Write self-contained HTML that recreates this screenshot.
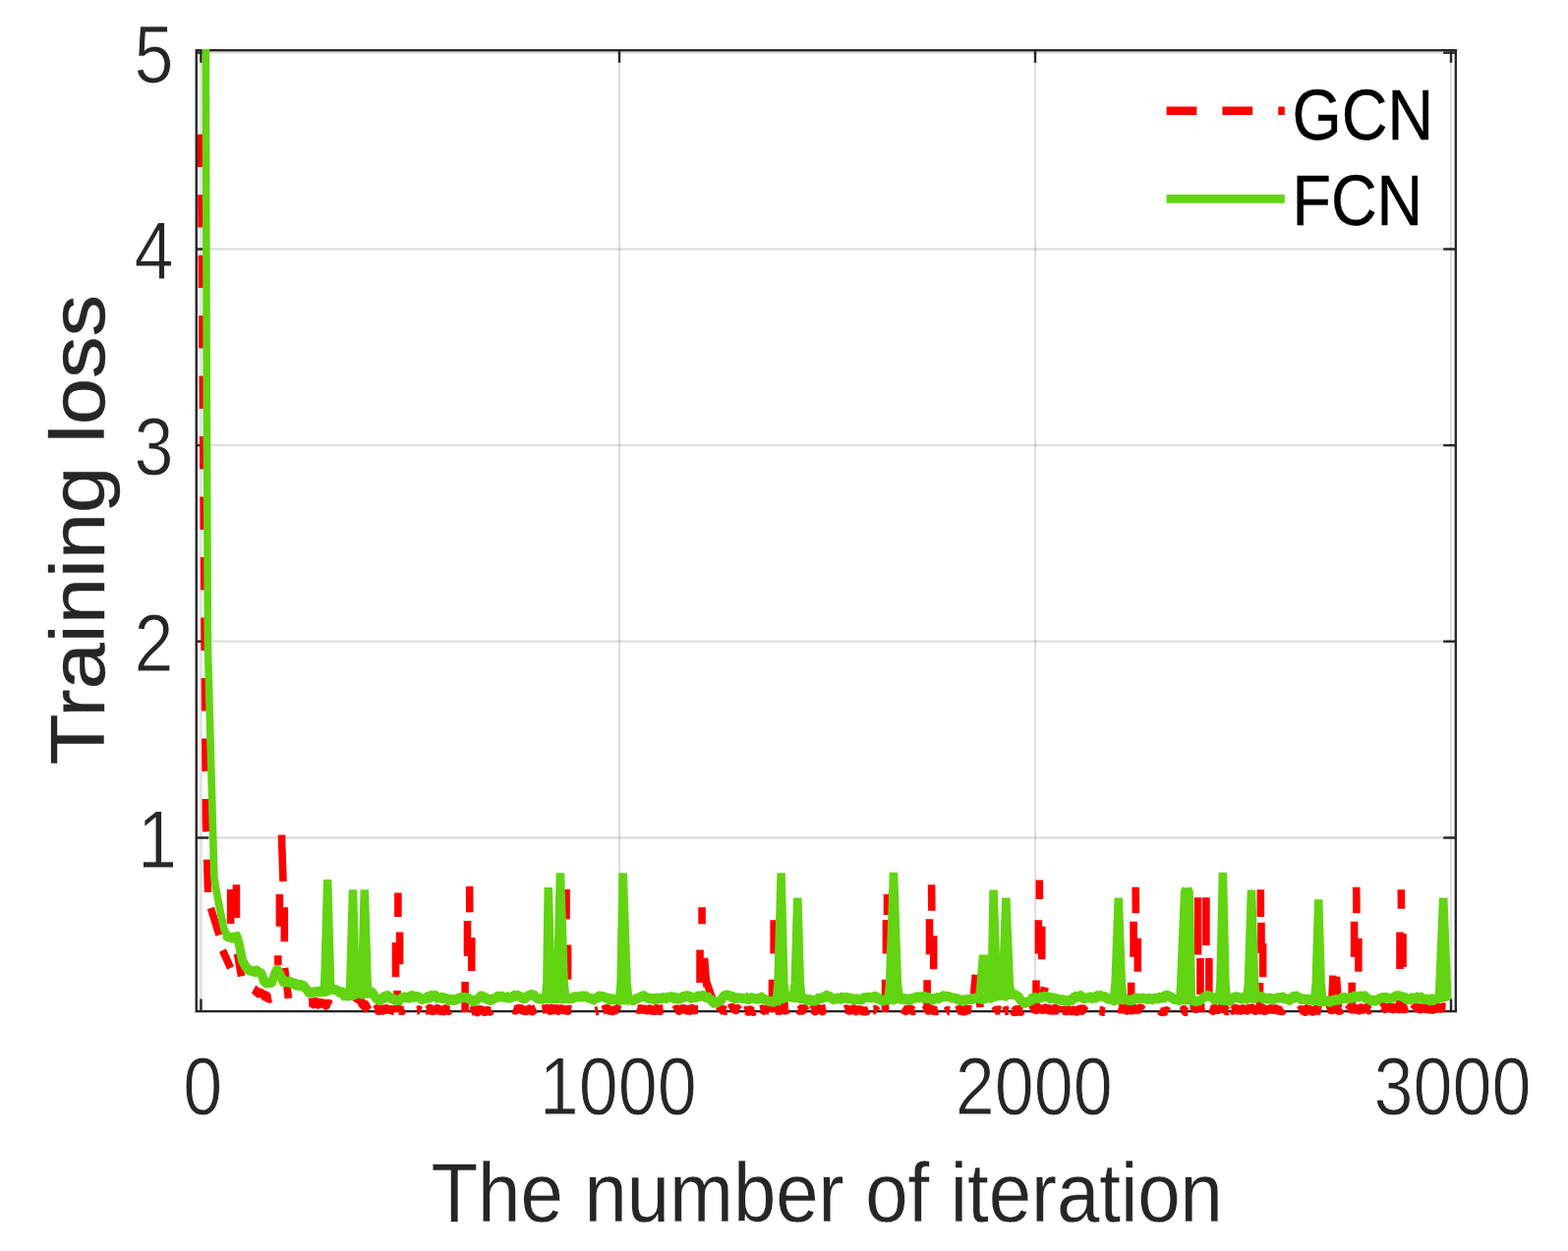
<!DOCTYPE html>
<html lang="en"><head><meta charset="utf-8"><title>Training loss</title>
<style>html,body{margin:0;padding:0;background:#fff}body{width:1595px;height:1273px;overflow:hidden}svg{display:block}text{font-family:"Liberation Sans",sans-serif}</style>
</head><body>
<svg width="1595" height="1273" viewBox="0 0 1595 1273">
<rect width="1595" height="1273" fill="#fff"/>
<defs><clipPath id="c"><rect x="201.00" y="50.00" width="1278.60" height="985.00"/></clipPath></defs>
<g stroke="#262626" stroke-opacity="0.15" stroke-width="2.30" fill="none">
<line x1="204.45" y1="51.20" x2="204.45" y2="1029.10"/>
<line x1="630.00" y1="51.20" x2="630.00" y2="1029.10"/>
<line x1="1053.00" y1="51.20" x2="1053.00" y2="1029.10"/>
<line x1="1476.00" y1="51.20" x2="1476.00" y2="1029.10"/>
<line x1="199.75" y1="53.65" x2="1480.80" y2="53.65"/>
<line x1="199.75" y1="253.50" x2="1480.80" y2="253.50"/>
<line x1="199.75" y1="453.10" x2="1480.80" y2="453.10"/>
<line x1="199.75" y1="652.70" x2="1480.80" y2="652.70"/>
<line x1="199.75" y1="852.50" x2="1480.80" y2="852.50"/>
</g>
<g stroke="#262626" stroke-width="2.40" fill="none">
<rect x="199.75" y="51.20" width="1281.05" height="977.90"/>
<line x1="204.45" y1="1029.10" x2="204.45" y2="1016.50"/>
<line x1="204.45" y1="51.20" x2="204.45" y2="63.80"/>
<line x1="630.00" y1="1029.10" x2="630.00" y2="1016.50"/>
<line x1="630.00" y1="51.20" x2="630.00" y2="63.80"/>
<line x1="1053.00" y1="1029.10" x2="1053.00" y2="1016.50"/>
<line x1="1053.00" y1="51.20" x2="1053.00" y2="63.80"/>
<line x1="1476.00" y1="1029.10" x2="1476.00" y2="1016.50"/>
<line x1="1476.00" y1="51.20" x2="1476.00" y2="63.80"/>
<line x1="199.75" y1="53.65" x2="212.35" y2="53.65"/>
<line x1="1480.80" y1="53.65" x2="1468.20" y2="53.65"/>
<line x1="199.75" y1="253.50" x2="212.35" y2="253.50"/>
<line x1="1480.80" y1="253.50" x2="1468.20" y2="253.50"/>
<line x1="199.75" y1="453.10" x2="212.35" y2="453.10"/>
<line x1="1480.80" y1="453.10" x2="1468.20" y2="453.10"/>
<line x1="199.75" y1="652.70" x2="212.35" y2="652.70"/>
<line x1="1480.80" y1="652.70" x2="1468.20" y2="652.70"/>
<line x1="199.75" y1="852.50" x2="212.35" y2="852.50"/>
<line x1="1480.80" y1="852.50" x2="1468.20" y2="852.50"/>
</g>
<g clip-path="url(#c)"><g transform="scale(0.9240 1)" fill="none" stroke-linecap="butt">
<path stroke="#ff0000" stroke-width="8.20" stroke-dasharray="33.3 28.2" stroke-linejoin="bevel" d="M221.3 136.6L226.7 837.0L228.4 890.0L229.0 909.0"/>
<path stroke="#ff0000" stroke-width="9.20" stroke-linejoin="round" d="M279.2 1006.7L281.0 1007.8L282.8 1009.3L284.5 1010.8L286.3 1010.2L288.1 1010.9L289.8 1011.9L291.6 1014.1L293.4 1013.3L295.2 1015.6L296.9 1016.1L298.7 1015.6M339.8 1020.1L341.6 1020.0L343.3 1020.1L345.0 1021.8L346.8 1019.7L348.5 1019.6L350.3 1022.2L352.0 1021.0L353.7 1020.6L355.5 1021.2L357.2 1021.4L359.0 1023.1L360.7 1021.4L362.4 1021.6L364.2 1022.7M389.6 1012.1L391.4 1014.8L393.2 1016.2L395.0 1016.6L396.8 1017.9L398.6 1021.2L400.4 1023.3L402.2 1022.4L404.0 1025.9L405.8 1028.0M412.9 1027.9L414.7 1026.8L416.5 1028.4L418.3 1028.2L420.1 1026.9L421.9 1028.1L423.7 1027.0L425.5 1026.6L427.3 1027.4L429.1 1027.4L430.9 1027.6L432.7 1028.3L434.5 1028.9M438.9 1028.2L441.0 1028.2L443.2 1028.3L445.3 1027.8M458.9 1028.0L461.0 1027.7L463.2 1028.8M469.2 1027.6L470.9 1028.0L472.7 1026.4L474.5 1026.7L476.2 1028.6L478.0 1027.8L479.8 1028.0L481.5 1026.4L483.3 1027.2L485.1 1028.6L486.8 1027.9L488.6 1028.8L490.4 1026.7L492.1 1027.4L493.9 1028.3L495.7 1027.4M518.4 1029.3L520.1 1028.7L521.9 1027.5L523.6 1027.5L525.4 1029.8L527.1 1027.5L528.9 1027.7L530.6 1028.1L532.4 1029.1L534.1 1029.4L535.9 1028.4L537.6 1028.5L539.4 1029.2L541.1 1027.9M564.9 1027.2L566.7 1027.8L568.5 1027.9L570.3 1026.3L572.0 1026.5L573.8 1026.6L575.6 1028.1L577.4 1028.0L579.2 1028.7L580.9 1028.2L582.7 1026.9L584.5 1028.2L586.3 1028.8L588.0 1027.1L589.8 1026.2M596.9 1027.2L598.6 1026.9L600.4 1026.7L602.2 1026.3L604.0 1026.5L605.7 1028.4L607.5 1026.3L609.3 1027.8L611.1 1026.7L612.8 1026.7L614.6 1028.3L616.4 1027.0L618.1 1026.7L619.9 1027.4L621.7 1028.0L623.5 1027.6L625.2 1028.4L627.0 1027.2L628.8 1027.6M655.3 1029.1L658.5 1028.4M663.4 1028.1L665.2 1027.4L667.0 1026.5L668.8 1026.5L670.6 1028.2L672.3 1028.1L674.1 1028.7L675.9 1028.0L677.7 1027.7L679.5 1026.6L681.3 1028.4M701.3 1026.5L703.1 1027.3L704.9 1026.6L706.7 1027.2L708.5 1027.0L710.3 1027.3L712.1 1028.0L713.8 1027.6L715.6 1026.8L717.4 1028.2L719.2 1028.1L721.0 1028.4L722.8 1026.3L724.6 1027.8L726.4 1028.5L728.2 1026.9L730.0 1026.7M742.4 1028.3L744.2 1027.1L745.9 1027.2L747.6 1028.3L749.4 1027.2L751.1 1026.7L752.8 1026.8L754.5 1027.1L756.3 1028.0L758.0 1027.2L759.7 1028.2L761.5 1026.4L763.2 1026.8L764.9 1027.8L766.7 1027.4L768.4 1027.5M791.1 1029.6L792.9 1027.9L794.6 1027.7L796.3 1027.3L798.1 1028.5L799.8 1028.0M803.0 1026.9L804.8 1025.7L806.6 1025.7L808.4 1026.7L810.2 1027.7L812.0 1026.5L813.9 1028.1M819.8 1028.7L821.7 1028.2L823.6 1029.2L825.5 1027.8L827.4 1028.8L829.3 1029.4L831.2 1028.6M837.1 1027.5L839.1 1026.9L841.0 1028.2L843.0 1027.2L844.9 1027.7L846.9 1028.1M852.8 1028.6L854.7 1028.0L856.6 1027.6L858.5 1028.4L860.4 1027.0L862.3 1027.2L864.2 1028.0L866.1 1027.6L868.0 1026.8M878.2 1027.3L880.1 1028.3L881.9 1026.8L883.8 1028.0L885.6 1026.3L887.4 1028.7M893.4 1028.0L895.1 1027.0L896.9 1028.8L898.6 1028.3L900.4 1026.4L902.1 1026.8L903.9 1027.5L905.6 1028.8L907.3 1026.6L909.1 1026.3M930.2 1027.5L931.9 1026.8L933.7 1027.8L935.4 1028.1L937.1 1027.8L938.9 1027.1L940.6 1026.8L942.3 1028.8L944.0 1027.8L945.8 1027.9L947.5 1027.9L949.2 1028.5L951.0 1029.0L952.7 1028.9L954.4 1028.6L956.2 1027.6M961.6 1027.6L963.7 1027.4L965.9 1029.4M993.5 1026.3L995.4 1027.7L997.4 1028.6L999.3 1027.0L1001.2 1027.2L1003.2 1027.3L1005.1 1028.7L1007.0 1028.0M1018.4 1028.4L1020.2 1026.3L1021.9 1028.1L1023.7 1027.4L1025.4 1027.2L1027.2 1028.3L1029.0 1028.1L1030.7 1028.6L1032.5 1028.1M1041.1 1029.6L1043.3 1028.3L1045.5 1028.6M1053.0 1028.7L1054.8 1027.9L1056.6 1027.1L1058.4 1028.2L1060.2 1029.0L1062.0 1029.0L1063.9 1027.0L1065.7 1027.7L1067.5 1027.3L1069.3 1027.6M1094.2 1029.7L1096.0 1028.3L1097.9 1028.0L1099.8 1027.9L1101.7 1028.3M1105.0 1029.4L1106.8 1028.6L1108.6 1028.2L1110.4 1028.3M1114.7 1027.9L1116.5 1029.6L1118.3 1027.6L1120.1 1029.2L1121.9 1027.5L1123.7 1029.2L1125.5 1027.9M1133.7 1027.2L1135.4 1026.4L1137.1 1025.5L1138.9 1025.6L1140.6 1027.5L1142.3 1026.9L1144.1 1026.8L1145.8 1026.5L1147.6 1027.4L1149.3 1026.9L1151.0 1025.9L1152.8 1027.3L1154.5 1026.6L1156.2 1028.1L1158.0 1027.4L1159.7 1028.0L1161.5 1026.4L1163.2 1027.9L1164.9 1027.7L1166.7 1028.4M1168.3 1029.0L1170.1 1028.1L1171.8 1028.2L1173.6 1028.7L1175.4 1027.4L1177.1 1028.1L1178.9 1028.7L1180.7 1028.2L1182.4 1028.1L1184.2 1028.9L1186.0 1029.2L1187.7 1027.4L1189.5 1026.9L1191.3 1028.3L1193.0 1027.1L1194.8 1029.2M1210.5 1028.4L1212.5 1028.6L1214.5 1029.3L1216.5 1029.5M1231.1 1026.1L1232.9 1026.9L1234.7 1026.2L1236.5 1026.9L1238.3 1026.0L1240.1 1028.0L1241.9 1026.6L1243.7 1026.7L1245.5 1028.0L1247.3 1027.8L1249.1 1026.6L1250.9 1027.0L1252.7 1027.4L1254.5 1026.2L1256.3 1026.1L1258.1 1027.9M1276.5 1028.1L1278.5 1029.5L1280.4 1029.6L1282.4 1029.2L1284.3 1028.6L1286.3 1029.9M1301.4 1029.2L1303.2 1027.4L1305.0 1029.5L1306.8 1028.9M1310.1 1024.5L1311.9 1024.2L1313.7 1024.2L1315.5 1026.1L1317.3 1026.3L1319.1 1025.2L1320.9 1024.8L1322.7 1024.7L1324.5 1025.7L1326.3 1025.5M1331.7 1026.3L1333.6 1027.0L1335.4 1028.3L1337.3 1026.4L1339.2 1027.3L1341.1 1027.5L1342.9 1026.6L1344.8 1026.3L1346.7 1026.4L1348.5 1026.6L1350.4 1028.7L1352.3 1028.4M1355.5 1027.5L1357.3 1028.1L1359.0 1026.6L1360.8 1026.4L1362.5 1028.0L1364.3 1027.4L1366.0 1028.2L1367.8 1026.7L1369.6 1026.9L1371.3 1027.7L1373.1 1028.1L1374.8 1026.3L1376.6 1026.6L1378.3 1025.9L1380.1 1027.4L1381.8 1028.3L1383.6 1027.4L1385.3 1026.3L1387.1 1027.8L1388.9 1027.7L1390.6 1026.3L1392.4 1028.4L1394.1 1027.7L1395.9 1027.3L1397.6 1027.0L1399.4 1026.5L1401.1 1027.3L1402.9 1027.1L1404.6 1026.7L1406.4 1027.8L1408.2 1027.9L1409.9 1028.7L1411.7 1028.7L1413.4 1027.4M1429.7 1028.6L1431.4 1027.7L1433.2 1027.8L1435.0 1028.2L1436.8 1029.3L1438.5 1026.8L1440.3 1027.9L1442.1 1027.6L1443.9 1028.8L1445.7 1029.2L1447.4 1027.9L1449.2 1026.9L1451.0 1028.2L1452.8 1028.2L1454.5 1028.5M1461.0 1027.7L1462.8 1026.9L1464.6 1027.1L1466.5 1027.7L1468.3 1025.8L1470.1 1026.3L1471.9 1027.5L1473.7 1028.2L1475.5 1028.2L1477.3 1026.4M1483.8 1028.2L1485.5 1026.4L1487.3 1026.8L1489.1 1026.0L1490.9 1027.1L1492.7 1026.5L1494.4 1027.3L1496.2 1027.9L1498.0 1025.7L1499.8 1027.1L1501.5 1026.9L1503.3 1026.0L1505.1 1025.4L1506.9 1027.7L1508.7 1027.0M1521.1 1025.8L1522.9 1024.5L1524.7 1026.5L1526.5 1025.2L1528.3 1025.4L1530.1 1025.6L1531.9 1025.4L1533.7 1026.7L1535.4 1025.4L1537.2 1026.0L1539.0 1026.2L1540.8 1026.6L1542.6 1024.6L1544.4 1025.1L1546.2 1026.7L1548.0 1025.8L1549.8 1025.2M1555.7 1027.5L1557.5 1025.5L1559.3 1025.8L1561.1 1025.3L1562.9 1026.8L1564.7 1026.3L1566.5 1025.8L1568.2 1026.2L1570.0 1025.7L1571.8 1026.8L1573.6 1026.9L1575.4 1025.9L1577.2 1027.2L1579.0 1025.0L1580.7 1026.3L1582.5 1025.2L1584.3 1025.1L1586.1 1026.2L1587.9 1025.0L1589.7 1024.9L1591.5 1025.0"/>
<path stroke="#ff0000" stroke-width="8.20" d="M232.1 924.0L241.3 951.5M253.9 905.0L253.9 940.0M260.2 900.3L260.2 934.0M245.1 967.0L253.8 985.0M261.4 970.5L265.7 993.5M310.0 849.6L311.7 897.0M307.8 910.1L307.8 942.8M313.1 923.2L313.1 958.3M306.1 972.2L306.1 982.0M313.3 985.0L317.6 1016.0M438.2 908.4L438.2 933.0M440.0 948.5L440.0 981.2M435.6 959.1L435.6 994.2M437.2 1008.0L437.2 1030.0M516.9 901.9L517.1 928.4M514.6 936.9L514.6 972.9M519.2 953.9L519.2 987.9M512.0 998.9L512.0 1030.0M623.4 905.0L623.4 935.4M625.1 961.6L625.1 996.7M772.8 923.2L772.8 940.3M770.6 966.5L770.6 1000.0M775.4 975.0L778.1 1004.0M778.1 1000.0L786.8 1023.0M851.9 936.2L851.9 970.5M850.1 996.7L850.1 1030.0M863.6 1005.0L863.6 1030.0M976.7 910.0L976.7 931.0M975.6 936.0L975.6 970.5M974.6 996.7L974.6 1030.0M1025.5 900.3L1025.8 926.8M1023.3 935.3L1023.3 971.3M1027.8 952.3L1027.8 986.3M1020.7 997.3L1020.7 1030.0M1073.9 991.8L1072.0 1012.0M1076.8 993.0L1079.0 1025.0M1144.3 895.4L1144.3 915.0M1143.3 936.2L1143.3 970.5M1146.9 942.8L1146.9 976.3M1140.7 997.5L1140.7 1030.0M1145.0 1007.5L1153.7 1009.5M1250.2 902.7L1250.4 929.2M1247.9 937.7L1247.9 973.7M1252.5 954.7L1252.5 988.7M1245.3 999.7L1245.3 1030.0M1318.8 913.3L1318.8 971.4M1327.8 913.3L1327.8 962.0M1321.4 975.0L1321.4 1012.0M1331.0 975.0L1331.0 1012.0M1387.8 905.2L1387.8 933.0M1388.5 938.7L1388.5 970.0M1390.3 960.0L1390.3 994.2M1386.9 1000.0L1386.9 1030.0M1467.5 992.6L1465.9 1025.0M1471.3 994.0L1473.5 1025.0M1493.2 902.7L1493.4 929.2M1490.9 937.7L1490.9 973.7M1495.5 954.7L1495.5 988.7M1488.3 999.7L1488.3 1030.0M1542.5 905.2L1542.7 924.8M1541.1 948.5L1541.1 986.0M1544.4 950.0L1544.4 984.0M1540.9 1012.0L1540.9 1030.0"/>
<path stroke="#62d412" stroke-width="9.80" stroke-linejoin="round" d="M248.4 951.0L250.0 953.0L255.4 954.5L260.8 953.0L263.5 962.0L266.7 977.0L270.6 984.0L271.6 984.8L273.5 987.1L275.3 987.7L277.2 988.3L279.0 988.2L280.8 989.2L282.7 987.5L284.5 989.0L286.4 990.3L288.2 991.0L290.0 997.3L291.9 999.7L293.7 1000.6L295.6 999.8L297.4 1000.2L299.2 999.8L301.1 994.9L302.9 990.2L304.8 986.7L306.6 988.6L308.4 991.9L310.3 995.2L312.1 999.6L314.0 998.3L315.8 999.6L317.6 998.7L319.5 998.7L321.3 1001.3L323.2 1000.1L325.0 1000.6L326.8 1002.9L328.7 1002.9L330.5 1001.8L332.4 1003.5L334.2 1002.9L336.0 1005.4L337.9 1006.9L339.7 1010.0L341.6 1009.5L343.4 1010.2L345.2 1010.2L347.1 1009.0L348.9 1009.3L350.8 1008.9L352.6 1008.9L354.4 1008.7L356.3 1009.0L358.1 1009.1L360.0 1007.0L361.8 1008.0L363.6 1006.6L365.5 1006.1L367.3 1007.3L369.2 1007.0L371.0 1007.6L372.8 1009.1L374.7 1010.2L376.5 1009.2L378.4 1013.3L380.2 1011.9L382.0 1013.6L383.9 1013.7L385.7 1011.5L387.6 1013.2L389.4 1011.9L391.2 1012.1L393.1 1010.5L394.9 1010.2L396.8 1010.2L398.6 1011.8L400.4 1009.7L402.3 1010.8L404.1 1011.0L406.0 1010.9L407.8 1009.4L409.6 1009.6L411.5 1011.9L413.3 1015.5L415.2 1016.1L417.0 1017.9L418.8 1017.6L420.7 1016.9L422.5 1014.1L424.4 1015.5L426.2 1013.1L428.0 1013.8L429.9 1015.0L431.7 1016.7L433.5 1016.3L435.4 1018.5L437.2 1018.1L439.1 1017.5L440.9 1016.5L442.7 1015.0L444.6 1014.3L446.4 1014.4L448.3 1015.4L450.1 1015.9L451.9 1013.5L453.8 1013.0L455.6 1015.1L457.5 1014.0L459.3 1014.1L461.1 1014.4L463.0 1016.1L464.8 1017.1L466.7 1016.2L468.5 1015.8L470.3 1014.4L472.2 1015.9L474.0 1013.1L475.9 1013.7L477.7 1014.2L479.5 1013.1L481.4 1014.7L483.2 1015.5L485.1 1015.2L486.9 1016.1L488.7 1015.1L490.6 1016.4L492.4 1016.2L494.3 1018.1L496.1 1016.9L497.9 1017.1L499.8 1018.1L501.6 1017.2L503.5 1017.0L505.3 1015.3L507.1 1015.0L509.0 1015.4L510.8 1014.9L512.7 1014.8L514.5 1015.7L516.3 1015.8L518.2 1017.1L520.0 1019.1L521.9 1019.2L523.7 1018.2L525.5 1016.9L527.4 1015.2L529.2 1013.5L531.1 1013.5L532.9 1015.1L534.7 1016.2L536.6 1016.0L538.4 1017.8L540.3 1018.0L542.1 1017.3L543.9 1016.3L545.8 1015.5L547.6 1013.8L549.5 1014.5L551.3 1013.6L553.1 1014.2L555.0 1015.1L556.8 1015.1L558.7 1014.3L560.5 1015.9L562.3 1015.1L564.2 1014.6L566.0 1012.7L567.9 1013.6L569.7 1012.7L571.5 1014.0L573.4 1014.3L575.2 1016.1L577.1 1016.1L578.9 1015.9L580.7 1013.5L582.6 1012.8L584.4 1012.2L586.3 1012.6L588.1 1012.6L589.9 1015.2L591.8 1016.4L593.6 1016.2L595.5 1016.8L597.3 1016.8L599.1 1015.7L601.0 1015.8L602.8 1014.9L604.7 1016.5L606.5 1016.7L608.3 1015.6L610.2 1016.2L612.0 1016.2L613.9 1016.3L615.7 1014.9L617.5 1016.4L619.4 1015.9L621.2 1016.1L623.1 1015.5L624.9 1016.0L626.7 1016.4L628.6 1016.0L630.4 1016.0L632.3 1014.1L634.1 1014.1L635.9 1014.5L637.8 1014.7L639.6 1013.5L641.5 1014.5L643.3 1014.4L645.1 1013.5L647.0 1015.3L648.8 1015.6L650.6 1015.9L652.5 1016.4L654.3 1016.7L656.2 1015.7L658.0 1014.6L659.8 1013.4L661.7 1014.0L663.5 1013.9L665.4 1014.9L667.2 1015.6L669.0 1015.5L670.9 1017.8L672.7 1016.0L674.6 1017.1L676.4 1016.8L678.2 1017.1L680.1 1016.4L681.9 1018.1L683.8 1017.0L685.6 1016.2L687.4 1017.6L689.3 1016.4L691.1 1017.5L693.0 1017.0L694.8 1017.5L696.6 1018.4L698.5 1017.7L700.3 1016.1L702.2 1016.2L704.0 1015.1L705.8 1014.0L707.7 1013.2L709.5 1014.4L711.4 1014.5L713.2 1015.9L715.0 1016.4L716.9 1016.0L718.7 1015.8L720.6 1017.4L722.4 1015.3L724.2 1015.5L726.1 1016.4L727.9 1016.3L729.8 1014.9L731.6 1015.7L733.4 1016.1L735.3 1014.7L737.1 1014.7L739.0 1014.2L740.8 1014.5L742.6 1016.3L744.5 1015.1L746.3 1016.7L748.2 1016.7L750.0 1015.7L751.8 1014.0L753.7 1014.8L755.5 1013.2L757.4 1013.3L759.2 1013.6L761.0 1015.9L762.9 1015.2L764.7 1014.8L766.6 1014.9L768.4 1013.5L770.2 1014.1L772.1 1013.2L773.9 1012.8L775.8 1014.3L777.6 1015.2L779.4 1014.4L781.3 1016.8L783.1 1017.5L785.0 1020.1L786.8 1020.5L788.6 1019.6L790.5 1019.4L792.3 1017.8L794.2 1017.8L796.0 1014.1L797.8 1013.3L799.7 1012.3L801.5 1013.0L803.4 1013.5L805.2 1014.7L807.0 1014.0L808.9 1016.2L810.7 1015.2L812.6 1015.8L814.4 1015.4L816.2 1015.4L818.1 1016.1L819.9 1016.1L821.8 1015.9L823.6 1016.9L825.4 1016.6L827.3 1015.2L829.1 1015.6L831.0 1016.0L832.8 1016.9L834.6 1016.7L836.5 1015.8L838.3 1014.6L840.2 1016.9L842.0 1016.7L843.8 1017.8L845.7 1018.8L847.5 1019.1L849.4 1018.9L851.2 1019.8L853.0 1018.2L854.9 1017.8L856.7 1018.2L858.5 1015.9L860.4 1015.4L862.2 1016.0L864.1 1013.6L865.9 1015.0L867.7 1014.4L869.6 1013.7L871.4 1013.4L873.3 1014.8L875.1 1015.4L876.9 1013.9L878.8 1015.1L880.6 1015.7L882.5 1016.1L884.3 1016.1L886.1 1016.1L888.0 1017.6L889.8 1018.4L891.7 1016.9L893.5 1017.5L895.3 1018.9L897.2 1018.7L899.0 1017.8L900.9 1015.5L902.7 1016.3L904.5 1016.0L906.4 1015.4L908.2 1014.2L910.1 1012.6L911.9 1014.8L913.7 1014.0L915.6 1015.7L917.4 1017.2L919.3 1017.0L921.1 1015.6L922.9 1015.7L924.8 1016.8L926.6 1014.7L928.5 1015.6L930.3 1015.2L932.1 1014.9L934.0 1016.4L935.8 1015.5L937.7 1016.0L939.5 1017.0L941.3 1016.3L943.2 1016.2L945.0 1017.3L946.9 1017.4L948.7 1017.3L950.5 1015.1L952.4 1015.4L954.2 1014.7L956.1 1015.1L957.9 1014.6L959.7 1015.5L961.6 1014.2L963.4 1013.8L965.3 1016.1L967.1 1015.5L968.9 1017.3L970.8 1017.3L972.6 1018.3L974.5 1017.4L976.3 1017.5L978.1 1016.6L980.0 1017.2L981.8 1016.4L983.7 1017.5L985.5 1016.8L987.3 1015.8L989.2 1016.0L991.0 1016.2L992.9 1017.1L994.7 1015.7L996.5 1017.2L998.4 1017.4L1000.2 1016.3L1002.1 1017.7L1003.9 1015.9L1005.7 1015.3L1007.6 1015.7L1009.4 1014.2L1011.3 1015.4L1013.1 1014.4L1014.9 1014.2L1016.8 1015.6L1018.6 1014.1L1020.5 1016.1L1022.3 1014.9L1024.1 1015.4L1026.0 1017.5L1027.8 1016.9L1029.7 1015.7L1031.5 1015.0L1033.3 1016.4L1035.2 1015.0L1037.0 1014.9L1038.9 1013.2L1040.7 1014.4L1042.5 1014.0L1044.4 1014.0L1046.2 1014.6L1048.1 1015.7L1049.9 1015.5L1051.7 1016.0L1053.6 1015.8L1055.4 1017.8L1057.3 1017.6L1059.1 1018.1L1060.9 1017.2L1062.8 1018.0L1064.6 1017.0L1066.5 1017.0L1068.3 1016.8L1070.1 1017.1L1072.0 1016.2L1073.8 1015.5L1075.6 1015.2L1077.5 1015.5L1079.3 1015.0L1081.2 1016.9L1083.0 1015.7L1084.8 1016.2L1086.7 1014.1L1088.5 1015.0L1090.4 1015.8L1092.2 1014.9L1094.0 1014.2L1095.9 1014.0L1097.7 1012.9L1099.6 1012.7L1101.4 1012.5L1103.2 1012.8L1105.1 1012.7L1106.9 1013.7L1108.8 1011.8L1110.6 1011.9L1112.4 1011.9L1114.3 1011.6L1116.1 1011.8L1118.0 1012.0L1119.8 1013.7L1121.6 1014.2L1123.5 1018.2L1125.3 1018.5L1127.2 1020.9L1129.0 1020.6L1130.8 1020.2L1132.7 1018.8L1134.5 1018.7L1136.4 1015.6L1138.2 1016.2L1140.0 1015.2L1141.9 1016.0L1143.7 1016.0L1145.6 1014.5L1147.4 1014.4L1149.2 1013.8L1151.1 1014.2L1152.9 1013.9L1154.8 1014.8L1156.6 1016.4L1158.4 1015.2L1160.3 1015.4L1162.1 1016.2L1164.0 1016.2L1165.8 1017.6L1167.6 1018.0L1169.5 1016.9L1171.3 1017.4L1173.2 1018.5L1175.0 1019.2L1176.8 1018.3L1178.7 1017.2L1180.5 1017.8L1182.4 1014.6L1184.2 1014.0L1186.0 1015.1L1187.9 1013.9L1189.7 1013.0L1191.6 1014.7L1193.4 1016.4L1195.2 1015.7L1197.1 1015.3L1198.9 1014.6L1200.8 1014.3L1202.6 1016.0L1204.4 1014.8L1206.3 1015.5L1208.1 1013.2L1210.0 1013.5L1211.8 1013.0L1213.6 1014.0L1215.5 1013.8L1217.3 1015.2L1219.2 1016.4L1221.0 1016.7L1222.8 1016.3L1224.7 1016.2L1226.5 1018.5L1228.4 1016.6L1230.2 1017.4L1232.0 1017.1L1233.9 1017.4L1235.7 1016.4L1237.6 1016.9L1239.4 1016.4L1241.2 1017.5L1243.1 1018.4L1244.9 1017.6L1246.8 1018.1L1248.6 1016.3L1250.4 1015.4L1252.3 1016.3L1254.1 1015.8L1256.0 1015.9L1257.8 1015.4L1259.6 1016.1L1261.5 1016.5L1263.3 1017.0L1265.2 1015.7L1267.0 1016.2L1268.8 1017.2L1270.7 1015.8L1272.5 1015.5L1274.4 1015.7L1276.2 1014.7L1278.0 1015.7L1279.9 1015.2L1281.7 1013.5L1283.5 1012.8L1285.4 1012.7L1287.2 1013.7L1289.1 1014.2L1290.9 1016.0L1292.7 1017.2L1294.6 1016.7L1296.4 1016.3L1298.3 1017.9L1300.1 1016.3L1301.9 1016.8L1303.8 1017.1L1305.6 1017.4L1307.5 1016.8L1309.3 1017.7L1311.1 1017.5L1313.0 1018.6L1314.8 1018.2L1316.7 1019.1L1318.5 1018.5L1320.3 1018.7L1322.2 1017.5L1324.0 1015.6L1325.9 1014.9L1327.7 1013.2L1329.5 1013.5L1331.4 1013.4L1333.2 1014.5L1335.1 1014.9L1336.9 1017.5L1338.7 1017.0L1340.6 1016.5L1342.4 1016.4L1344.3 1016.8L1346.1 1017.2L1347.9 1018.3L1349.8 1017.5L1351.6 1017.1L1353.5 1018.8L1355.3 1017.9L1357.1 1015.7L1359.0 1014.7L1360.8 1014.1L1362.7 1014.5L1364.5 1016.0L1366.3 1016.7L1368.2 1016.4L1370.0 1015.7L1371.9 1016.1L1373.7 1015.9L1375.5 1015.6L1377.4 1014.6L1379.2 1015.7L1381.1 1016.0L1382.9 1015.6L1384.7 1013.9L1386.6 1014.9L1388.4 1014.1L1390.3 1015.6L1392.1 1015.2L1393.9 1016.7L1395.8 1016.7L1397.6 1015.4L1399.5 1016.0L1401.3 1017.5L1403.1 1016.2L1405.0 1015.7L1406.8 1015.2L1408.7 1015.5L1410.5 1015.6L1412.3 1014.6L1414.2 1016.4L1416.0 1016.6L1417.9 1016.3L1419.7 1018.0L1421.5 1016.2L1423.4 1014.2L1425.2 1015.7L1427.1 1013.4L1428.9 1015.0L1430.7 1015.4L1432.6 1017.0L1434.4 1016.5L1436.3 1016.5L1438.1 1016.8L1439.9 1016.6L1441.8 1017.6L1443.6 1017.2L1445.5 1018.2L1447.3 1017.2L1449.1 1017.6L1451.0 1017.5L1452.8 1019.4L1454.7 1019.3L1456.5 1019.4L1458.3 1019.0L1460.2 1018.6L1462.0 1018.1L1463.9 1019.7L1465.7 1018.9L1467.5 1017.6L1469.4 1017.6L1471.2 1016.9L1473.1 1017.8L1474.9 1017.7L1476.7 1015.4L1478.6 1016.4L1480.4 1015.0L1482.3 1015.7L1484.1 1016.1L1485.9 1015.5L1487.8 1015.8L1489.6 1014.6L1491.5 1013.5L1493.3 1014.5L1495.1 1014.5L1497.0 1013.4L1498.8 1013.8L1500.6 1013.6L1502.5 1013.4L1504.3 1015.1L1506.2 1016.3L1508.0 1017.5L1509.8 1018.6L1511.7 1017.8L1513.5 1018.8L1515.4 1017.8L1517.2 1017.3L1519.0 1016.0L1520.9 1015.5L1522.7 1014.9L1524.6 1015.7L1526.4 1014.9L1528.2 1015.8L1530.1 1016.2L1531.9 1015.9L1533.8 1015.0L1535.6 1013.8L1537.4 1013.1L1539.3 1013.1L1541.1 1013.4L1543.0 1014.2L1544.8 1014.8L1546.6 1014.9L1548.5 1017.3L1550.3 1016.3L1552.2 1017.3L1554.0 1015.4L1555.8 1016.4L1557.7 1015.6L1559.5 1015.8L1561.4 1015.4L1563.2 1015.1L1565.0 1016.0L1566.9 1016.5L1568.7 1016.9L1570.6 1016.5L1572.4 1017.4L1574.2 1018.2L1576.1 1016.4L1577.9 1017.9L1579.8 1016.6L1581.6 1016.2L1583.4 1015.0L1585.3 1015.4L1587.1 1014.2L1589.0 1014.5L1590.8 1014.4L1592.6 1013.8L1594.5 1012.7L1596.3 1012.0"/>
<path stroke="#62d412" stroke-width="8.20" stroke-linejoin="miter" stroke-miterlimit="1.6" d="M226.5 30.0L227.7 440.0L228.8 658.0L232.3 776.0L233.9 830.0L235.8 893.0L239.2 912.0L242.7 928.0L246.3 944.0L250.0 953.0L255.4 954.5L260.8 953.0L263.5 962.0L266.7 977.0L270.6 984.0L271.6 984.1L272.7 985.8L273.8 987.1L274.9 986.8L276.0 986.6L277.1 987.2L278.1 987.6L279.2 988.1L280.3 987.6L281.4 987.9L282.5 988.9L283.5 989.1L284.6 989.6L285.7 989.6L286.8 989.3L287.9 989.9L289.0 993.6L290.0 996.2L291.1 999.2L292.2 1000.4L293.3 1000.8L294.4 1000.7L295.5 1000.3L296.5 1000.2L297.6 1000.1L298.7 1000.2L299.8 999.3L300.9 996.7L301.9 993.0L303.0 990.8L304.1 987.7L305.2 986.9L306.3 986.7L307.4 988.8L308.4 991.0L309.5 994.2L310.6 997.9L311.7 998.5L312.8 999.4L313.9 998.7L314.9 999.1L316.0 999.5L317.1 999.4L318.2 999.8L319.3 999.9L320.3 999.8L321.4 1000.6L322.5 1000.4L323.6 1001.6L324.7 1001.0L325.8 1001.7L326.8 1001.7L327.9 1002.3L329.0 1001.9L330.1 1002.6L331.2 1002.3L332.3 1002.8L333.3 1002.7L334.4 1003.1L335.5 1004.0L336.6 1006.0L337.7 1007.5L338.7 1009.0L339.8 1008.9L340.9 1009.2L342.0 1009.2L343.1 1009.2L344.2 1009.2L345.2 1009.3L346.3 1009.2L347.4 1009.1L348.5 1009.4L349.6 1009.9L350.6 1010.3L351.7 1010.1L352.8 1010.2L353.9 1010.1L355.0 1009.9L355.0 1009.7L356.9 1001.0L360.1 895.2L360.6 1008.0L361.0 895.2L364.2 1001.0L366.1 1006.5L367.2 1006.6L368.2 1007.0L369.3 1007.7L370.4 1007.6L371.5 1008.1L372.6 1009.7L373.6 1009.5L374.7 1010.1L375.8 1010.2L376.9 1010.2L378.0 1012.6L379.1 1013.4L380.1 1013.1L381.2 1013.2L382.3 1013.0L383.3 1012.9L385.1 1001.0L388.0 905.4L388.5 1012.4L389.0 905.4L391.7 1001.0L393.5 1011.6L394.6 1011.1L395.7 1011.1L396.3 1011.1L398.1 1001.0L400.8 905.4L401.3 1010.3L401.8 905.4L404.9 1001.0L406.7 1009.8L407.8 1009.9L408.9 1010.2L410.0 1010.4L411.0 1011.3L412.1 1013.3L413.2 1014.4L414.3 1016.5L415.4 1017.5L416.5 1017.2L417.5 1016.6L418.6 1016.6L419.7 1016.6L420.8 1016.2L421.9 1016.0L422.9 1014.6L424.0 1014.6L425.1 1014.5L426.2 1014.0L427.3 1013.2L428.4 1014.5L429.4 1015.4L430.5 1015.4L431.6 1015.3L432.7 1016.1L433.8 1016.9L434.8 1018.2L435.9 1017.9L437.0 1018.0L438.1 1018.6L439.2 1017.9L440.3 1018.1L441.3 1016.4L442.4 1015.8L443.5 1015.7L444.6 1015.8L445.7 1015.5L446.8 1015.3L447.8 1014.4L448.9 1014.6L450.0 1014.5L451.1 1014.3L452.2 1014.5L453.2 1014.0L454.3 1014.3L455.4 1013.9L456.5 1013.7L457.6 1013.9L458.7 1014.3L459.7 1014.8L460.8 1014.8L461.9 1015.3L463.0 1015.4L464.1 1016.7L465.2 1016.8L466.2 1016.3L467.3 1016.1L468.4 1015.6L469.5 1015.8L470.6 1015.5L471.6 1015.8L472.7 1014.8L473.8 1014.0L474.9 1013.1L476.0 1014.2L477.1 1013.6L478.1 1012.8L479.2 1013.6L480.3 1013.5L481.4 1015.4L482.5 1014.7L483.5 1014.7L484.6 1014.7L485.7 1014.3L486.8 1015.4L487.9 1015.2L489.0 1016.3L490.0 1015.7L491.1 1016.4L492.2 1017.4L493.3 1017.7L494.4 1016.9L495.5 1016.8L496.5 1017.6L497.6 1017.5L498.7 1016.7L499.8 1016.6L500.9 1016.4L501.9 1015.9L503.0 1015.8L504.1 1016.2L505.2 1015.7L506.3 1015.9L507.4 1015.0L508.4 1014.9L509.5 1014.5L510.6 1014.8L511.7 1014.6L512.8 1014.7L513.9 1015.9L514.9 1016.6L516.0 1016.8L517.1 1017.4L518.2 1017.5L519.3 1017.5L520.3 1018.0L521.4 1018.0L522.5 1017.7L523.6 1017.3L524.7 1016.9L525.8 1016.7L526.8 1016.0L527.9 1015.0L529.0 1015.1L530.1 1014.2L531.2 1014.3L532.3 1014.6L533.3 1014.3L534.4 1014.4L535.5 1016.0L536.6 1016.1L537.7 1017.3L538.7 1017.3L539.8 1017.7L540.9 1017.5L542.0 1016.2L543.1 1016.6L544.2 1015.5L545.2 1014.9L546.3 1014.4L547.4 1014.5L548.5 1014.4L549.6 1014.4L550.6 1013.5L551.7 1014.0L552.8 1013.4L553.9 1014.3L555.0 1014.7L556.1 1014.3L557.1 1014.8L558.2 1014.8L559.3 1015.2L560.4 1014.6L561.5 1014.6L562.6 1014.5L563.6 1015.1L564.7 1014.6L565.8 1013.9L566.9 1013.7L568.0 1013.5L569.0 1013.4L570.1 1013.2L571.2 1013.3L572.3 1013.4L573.4 1014.2L574.5 1015.6L575.5 1015.6L576.6 1015.7L577.7 1015.6L578.8 1015.3L579.9 1014.7L581.0 1013.5L582.0 1012.9L583.1 1012.2L584.2 1011.4L585.3 1011.3L586.4 1011.6L587.4 1012.1L588.5 1013.6L589.6 1013.3L590.7 1014.8L591.8 1015.3L592.9 1015.5L593.9 1015.7L595.0 1016.1L596.1 1015.7L597.2 1015.7L598.3 1015.5L599.4 1015.7L599.9 1015.7L601.6 1001.0L603.1 903.1L603.6 1015.7L604.1 903.1L607.0 1001.0L608.8 1015.7L609.8 1016.0L610.9 1015.6L611.6 1015.7L613.4 1001.0L616.3 888.4L616.8 1015.7L617.3 888.4L621.4 1001.0L623.3 1015.7L624.4 1015.3L625.4 1015.3L626.5 1015.3L627.6 1015.2L628.7 1016.0L629.8 1015.7L630.8 1015.3L631.9 1015.8L633.0 1014.9L634.1 1015.2L635.2 1015.0L636.3 1014.0L637.3 1013.9L638.4 1014.0L639.5 1014.5L640.6 1014.6L641.7 1013.6L642.7 1014.4L643.8 1014.1L644.9 1014.3L646.0 1014.7L647.1 1015.3L648.2 1015.3L649.2 1016.1L650.3 1016.4L651.4 1017.3L652.5 1018.1L653.6 1018.3L654.7 1017.0L655.7 1016.0L656.8 1015.9L657.9 1015.1L659.0 1015.6L660.1 1014.6L661.1 1013.9L662.2 1014.4L663.3 1014.3L664.4 1013.8L665.5 1014.5L666.6 1015.0L667.6 1015.5L668.7 1016.0L669.8 1016.3L670.9 1016.9L672.0 1016.9L673.1 1017.0L674.1 1017.9L675.2 1017.5L676.3 1017.5L677.4 1016.8L678.5 1017.3L679.5 1017.6L680.6 1016.9L681.3 1017.4L683.0 1001.0L685.3 888.4L685.8 1017.4L686.3 888.4L690.6 1001.0L692.5 1017.4L693.6 1017.7L694.7 1017.2L695.8 1017.5L696.9 1017.2L697.9 1017.1L699.0 1017.1L700.1 1016.2L701.2 1016.4L702.3 1015.2L703.4 1014.7L704.4 1014.9L705.5 1014.0L706.6 1014.0L707.7 1014.4L708.8 1014.5L709.8 1013.5L710.9 1014.5L712.0 1015.2L713.1 1015.2L714.2 1015.0L715.3 1015.1L716.3 1015.5L717.4 1015.5L718.5 1016.0L719.6 1016.3L720.7 1016.4L721.8 1016.9L722.8 1016.4L723.9 1015.9L725.0 1016.7L726.1 1015.9L727.2 1016.0L728.2 1015.9L729.3 1015.7L730.4 1015.3L731.5 1015.4L732.6 1016.0L733.7 1014.9L734.7 1015.0L735.8 1015.3L736.9 1015.1L738.0 1015.1L739.1 1015.2L740.2 1014.2L741.2 1014.7L742.3 1015.2L743.4 1015.5L744.5 1015.9L745.6 1015.7L746.6 1015.5L747.7 1015.7L748.8 1015.6L749.9 1015.6L751.0 1015.3L752.1 1014.4L753.1 1013.6L754.2 1013.2L755.3 1013.6L756.4 1013.7L757.5 1013.8L758.5 1014.1L759.6 1014.5L760.7 1014.6L761.8 1015.2L762.9 1014.9L764.0 1015.3L765.0 1015.0L766.1 1015.4L767.2 1014.6L768.3 1014.4L769.4 1014.2L770.5 1014.2L771.5 1013.2L772.6 1012.9L773.7 1013.5L774.8 1013.0L775.9 1013.9L776.9 1013.9L778.0 1014.6L779.1 1014.7L780.2 1016.3L781.3 1016.6L782.4 1017.2L783.4 1018.9L784.5 1019.1L785.6 1020.6L786.7 1019.9L787.8 1019.9L788.9 1020.2L789.9 1020.7L791.0 1019.6L792.1 1019.0L793.2 1017.9L794.3 1016.2L795.3 1015.4L796.4 1014.0L797.5 1012.8L798.6 1012.9L799.7 1012.6L800.8 1012.5L801.8 1012.4L802.9 1012.4L804.0 1013.7L805.1 1014.0L806.2 1014.0L807.3 1015.0L808.3 1014.9L809.4 1015.6L810.5 1015.8L811.6 1015.8L812.7 1015.8L813.7 1015.8L814.8 1015.4L815.9 1015.8L817.0 1015.8L818.1 1015.9L819.2 1016.2L820.2 1016.4L821.3 1016.8L822.4 1015.4L823.5 1016.5L824.6 1016.3L825.6 1017.1L826.7 1016.7L827.8 1015.7L828.9 1016.4L830.0 1016.0L831.1 1016.4L832.1 1015.6L833.2 1015.8L834.3 1015.7L835.4 1015.7L836.5 1015.5L837.6 1015.1L838.6 1016.0L839.7 1016.4L840.8 1016.4L841.9 1016.5L843.0 1017.3L844.0 1017.9L845.1 1018.1L846.2 1018.5L847.3 1019.2L848.4 1018.5L849.5 1018.8L850.5 1018.2L851.6 1018.5L852.7 1018.3L853.8 1018.0L854.2 1018.2L856.1 1001.0L859.5 888.4L860.0 1016.1L860.4 888.4L863.5 1001.0L865.4 1014.3L866.5 1013.8L867.5 1014.6L868.6 1013.8L869.7 1013.8L870.8 1014.7L871.9 1013.9L872.9 1014.1L874.7 1001.0L877.5 913.7L878.0 1015.0L878.5 913.7L881.3 1001.0L883.1 1016.2L884.2 1015.9L885.3 1016.9L886.4 1016.7L887.4 1017.8L888.5 1017.0L889.6 1017.5L890.7 1017.3L891.8 1018.0L892.9 1017.7L893.9 1018.1L895.0 1018.0L896.1 1017.9L897.2 1018.3L898.3 1018.0L899.4 1017.3L900.4 1016.6L901.5 1016.0L902.6 1015.9L903.7 1016.1L904.8 1014.6L905.8 1014.1L906.9 1013.8L908.0 1013.4L909.1 1013.3L910.2 1013.6L911.3 1014.3L912.3 1014.1L913.4 1014.3L914.5 1014.4L915.6 1015.5L916.7 1015.8L917.7 1015.7L918.8 1016.0L919.9 1016.5L921.0 1016.8L922.1 1016.6L923.2 1016.2L924.2 1015.8L925.3 1015.8L926.4 1015.5L927.5 1016.2L928.6 1015.0L929.7 1015.3L930.7 1015.9L931.8 1015.6L932.9 1016.4L934.0 1016.1L935.1 1016.4L936.1 1016.5L937.2 1016.4L938.3 1016.7L939.4 1018.0L940.5 1017.6L941.6 1017.6L942.6 1017.7L943.7 1017.4L944.8 1017.5L945.9 1016.9L947.0 1016.7L948.1 1016.9L949.1 1016.2L950.2 1015.6L951.3 1015.8L952.4 1015.4L953.5 1015.6L954.5 1014.9L955.6 1014.5L956.7 1014.6L957.8 1015.2L958.9 1014.5L960.0 1014.5L961.0 1014.5L962.1 1014.7L963.2 1015.2L964.3 1015.7L965.4 1015.0L966.5 1016.6L967.5 1016.5L968.6 1016.8L969.7 1018.0L970.8 1017.3L971.9 1018.0L972.9 1017.7L974.0 1017.0L975.1 1017.5L976.2 1017.5L977.1 1017.2L979.0 1001.0L983.3 887.9L983.8 1016.9L984.3 887.9L988.5 1001.0L990.5 1016.6L991.6 1016.5L992.6 1015.7L993.7 1016.4L994.8 1016.4L995.9 1016.2L997.0 1017.4L998.1 1016.9L999.1 1017.0L1000.2 1017.2L1001.3 1017.1L1002.4 1017.0L1003.5 1017.1L1004.5 1016.8L1005.6 1016.1L1006.7 1015.8L1007.8 1014.9L1008.9 1015.2L1010.0 1014.4L1011.0 1014.6L1012.1 1014.1L1013.2 1014.3L1014.3 1014.6L1015.4 1014.2L1016.5 1015.7L1017.5 1015.0L1018.6 1015.2L1019.7 1015.2L1020.8 1016.2L1021.9 1016.3L1022.9 1016.1L1024.0 1015.7L1025.1 1016.2L1026.2 1016.7L1027.3 1016.3L1028.4 1016.1L1029.4 1016.0L1030.5 1015.9L1031.6 1015.8L1032.7 1015.2L1033.8 1015.1L1034.8 1015.7L1035.9 1015.0L1037.0 1013.8L1038.1 1014.2L1039.2 1014.1L1040.3 1014.1L1041.3 1014.6L1042.4 1014.2L1043.5 1014.4L1044.6 1014.5L1045.7 1014.9L1046.8 1015.6L1047.8 1015.7L1048.9 1015.2L1050.0 1015.8L1051.1 1015.9L1052.2 1016.7L1053.2 1016.7L1054.3 1017.2L1055.4 1017.0L1056.5 1016.5L1057.6 1017.4L1058.7 1017.4L1059.7 1017.5L1060.8 1016.9L1061.9 1017.3L1063.0 1016.9L1064.1 1016.8L1065.2 1017.0L1066.2 1016.9L1067.3 1016.3L1068.4 1016.0L1069.5 1015.6L1070.6 1016.3L1071.6 1016.9L1072.7 1016.5L1073.8 1015.7L1074.9 1016.1L1076.0 1016.5L1077.1 1016.9L1077.9 1016.2L1081.8 971.8L1083.7 1010.0L1085.5 971.8L1087.3 1010.0L1089.1 971.8L1091.1 1014.7L1089.6 1014.9L1091.3 1001.0L1093.2 905.6L1093.7 1014.4L1094.2 905.6L1097.5 1001.0L1099.4 1013.6L1100.4 1013.9L1101.5 1013.5L1101.8 1013.3L1103.7 1001.0L1107.0 913.7L1107.5 1012.7L1108.0 913.7L1111.8 1001.0L1113.7 1012.4L1114.8 1012.4L1115.9 1012.0L1117.0 1012.2L1118.1 1012.6L1119.2 1013.0L1120.2 1014.1L1121.3 1014.9L1122.4 1016.2L1123.5 1017.7L1124.6 1018.4L1125.6 1019.2L1126.7 1019.6L1127.8 1019.5L1128.9 1020.2L1130.0 1020.3L1131.1 1019.4L1132.1 1019.6L1133.2 1018.4L1134.3 1017.9L1135.4 1017.0L1136.5 1016.1L1137.6 1016.7L1138.6 1015.3L1139.7 1016.0L1140.8 1015.5L1141.9 1015.7L1143.0 1015.2L1144.0 1015.3L1145.1 1015.6L1146.2 1015.9L1147.3 1014.8L1148.4 1015.0L1149.5 1015.2L1150.5 1014.6L1151.6 1015.1L1152.7 1014.6L1153.8 1015.1L1154.9 1015.2L1156.0 1015.6L1157.0 1015.4L1158.1 1015.1L1159.2 1015.9L1160.3 1015.5L1161.4 1016.4L1162.4 1016.9L1163.5 1016.8L1164.6 1016.6L1165.7 1017.5L1166.8 1017.3L1167.9 1017.1L1168.9 1017.6L1170.0 1018.3L1171.1 1017.9L1172.2 1018.1L1173.3 1018.0L1174.4 1017.6L1175.4 1017.9L1176.5 1018.1L1177.6 1017.8L1178.7 1017.3L1179.8 1016.2L1180.8 1016.9L1181.9 1016.3L1183.0 1015.9L1184.1 1015.5L1185.2 1014.5L1186.3 1014.2L1187.3 1014.3L1188.4 1014.6L1189.5 1013.5L1190.6 1014.2L1191.7 1014.4L1192.7 1015.2L1193.8 1015.9L1194.9 1015.5L1196.0 1015.3L1197.1 1015.7L1198.2 1015.5L1199.2 1015.0L1200.3 1015.7L1201.4 1015.1L1202.5 1015.3L1203.6 1014.5L1204.7 1015.1L1205.7 1014.1L1206.8 1014.8L1207.9 1013.7L1209.0 1014.7L1210.1 1014.0L1211.1 1013.5L1212.2 1014.0L1213.3 1014.3L1214.4 1014.1L1215.5 1014.7L1216.6 1015.5L1217.6 1015.9L1218.7 1015.3L1219.8 1016.7L1220.9 1017.3L1222.0 1017.4L1223.1 1017.7L1224.1 1017.1L1225.2 1018.2L1225.5 1017.4L1227.4 1001.0L1230.8 913.7L1231.3 1017.4L1231.8 913.7L1235.2 1001.0L1237.0 1017.4L1238.1 1017.6L1239.2 1017.5L1240.3 1017.7L1241.3 1017.7L1242.4 1017.4L1243.5 1017.1L1244.6 1017.7L1245.7 1017.5L1246.8 1016.6L1247.8 1016.8L1248.9 1017.1L1250.0 1016.7L1251.1 1016.5L1252.2 1016.4L1253.2 1016.0L1254.3 1016.4L1255.4 1015.5L1256.5 1015.6L1257.6 1015.8L1258.7 1016.0L1259.7 1016.1L1260.8 1016.4L1261.9 1015.8L1263.0 1016.4L1264.1 1016.3L1265.2 1015.8L1266.2 1016.2L1267.3 1017.1L1268.4 1016.7L1269.5 1016.3L1270.6 1015.7L1271.6 1016.2L1272.7 1016.2L1273.8 1016.3L1274.9 1016.9L1276.0 1016.0L1277.1 1015.5L1278.1 1014.7L1279.2 1014.2L1280.3 1014.2L1281.4 1013.9L1282.5 1014.9L1283.5 1013.5L1284.6 1013.4L1285.7 1014.2L1286.8 1014.1L1287.9 1014.1L1289.0 1015.6L1290.0 1015.6L1291.1 1015.8L1292.2 1016.9L1293.3 1017.3L1294.4 1017.2L1295.5 1017.6L1296.5 1017.6L1297.6 1017.1L1298.7 1017.4L1303.7 908.0L1305.4 904.2L1306.7 1017.7L1308.0 904.2L1309.5 907.5L1312.1 1018.0L1313.2 1017.3L1314.3 1017.2L1315.4 1018.0L1316.5 1018.5L1317.5 1018.5L1318.6 1018.6L1319.7 1018.8L1320.8 1018.0L1321.9 1017.8L1322.9 1016.2L1324.0 1016.0L1325.1 1014.9L1326.2 1013.8L1327.3 1012.9L1328.4 1012.2L1329.4 1012.4L1330.5 1013.0L1331.6 1012.9L1332.7 1013.8L1333.8 1014.2L1334.8 1015.4L1335.9 1015.8L1337.0 1016.9L1338.1 1017.1L1339.2 1017.5L1340.3 1017.1L1341.2 1017.4L1343.0 1001.0L1345.7 887.9L1346.2 1017.7L1346.7 887.9L1349.4 1001.0L1351.2 1018.1L1352.3 1017.7L1353.4 1018.0L1354.4 1018.4L1355.5 1018.2L1356.6 1017.0L1357.7 1016.8L1358.8 1016.2L1359.8 1015.5L1360.9 1014.5L1362.0 1015.0L1363.1 1014.6L1364.2 1015.5L1365.3 1015.6L1366.3 1015.9L1367.4 1015.1L1368.5 1016.4L1369.6 1016.6L1370.7 1015.9L1371.8 1016.7L1372.0 1016.3L1373.8 1001.0L1377.2 905.6L1377.7 1015.7L1378.2 905.6L1381.6 1001.0L1383.4 1015.0L1384.5 1014.9L1385.6 1014.8L1386.7 1014.6L1387.8 1014.5L1388.9 1014.8L1389.9 1016.1L1391.0 1015.2L1392.1 1015.4L1393.2 1015.3L1394.3 1015.5L1395.3 1015.7L1396.4 1015.8L1397.5 1016.6L1398.6 1016.3L1399.7 1016.8L1400.8 1016.1L1401.8 1016.8L1402.9 1016.3L1404.0 1016.4L1405.1 1015.8L1406.2 1015.2L1407.3 1015.6L1408.3 1014.8L1409.4 1014.6L1410.5 1014.2L1411.6 1014.5L1412.7 1014.4L1413.7 1015.1L1414.8 1015.8L1415.9 1016.1L1417.0 1016.4L1418.1 1017.4L1419.2 1017.6L1420.2 1017.3L1421.3 1016.1L1422.4 1016.0L1423.5 1015.3L1424.6 1014.8L1425.6 1014.6L1426.7 1014.4L1427.8 1014.7L1428.9 1015.2L1430.0 1015.0L1431.1 1015.0L1432.1 1015.9L1433.2 1016.4L1434.3 1016.0L1435.4 1016.8L1436.5 1017.4L1437.6 1017.3L1438.6 1017.4L1439.7 1016.9L1440.8 1017.7L1441.9 1018.0L1443.0 1017.4L1444.0 1017.3L1445.1 1017.2L1446.2 1018.0L1446.5 1017.7L1448.3 1001.0L1451.0 915.4L1451.5 1018.2L1452.0 915.4L1454.7 1001.0L1456.5 1018.6L1457.6 1018.7L1458.7 1018.5L1459.7 1019.2L1460.8 1019.1L1461.9 1019.1L1463.0 1018.3L1464.1 1018.9L1465.2 1019.2L1466.2 1018.5L1467.3 1019.1L1468.4 1019.1L1469.5 1018.7L1470.6 1017.8L1471.6 1017.5L1472.7 1017.7L1473.8 1017.4L1474.9 1017.1L1476.0 1016.8L1477.1 1016.0L1478.1 1015.7L1479.2 1014.9L1480.3 1015.7L1481.4 1016.1L1482.5 1015.1L1483.5 1015.1L1484.6 1015.5L1485.7 1015.3L1486.8 1014.6L1487.9 1014.8L1489.0 1014.5L1490.0 1015.5L1491.1 1014.4L1492.2 1014.9L1493.3 1015.1L1494.4 1015.0L1495.5 1014.8L1496.5 1014.7L1497.6 1013.7L1498.7 1013.9L1499.8 1013.8L1500.9 1014.0L1501.9 1015.3L1503.0 1014.2L1504.1 1015.6L1505.2 1015.6L1506.3 1017.2L1507.4 1017.7L1508.4 1017.6L1509.5 1018.8L1510.6 1018.2L1511.7 1018.5L1512.8 1018.0L1513.9 1017.4L1514.9 1017.1L1516.0 1016.8L1517.1 1016.6L1518.2 1015.9L1519.3 1016.3L1520.3 1015.1L1521.4 1014.8L1522.5 1014.6L1523.6 1014.6L1524.7 1014.4L1525.8 1014.8L1526.8 1015.6L1527.9 1015.5L1529.0 1015.6L1530.1 1015.9L1531.2 1016.2L1532.3 1016.0L1533.3 1015.9L1534.4 1015.1L1535.5 1014.8L1536.6 1014.1L1537.7 1013.9L1538.7 1013.3L1539.8 1013.2L1540.9 1013.2L1542.0 1013.2L1543.1 1013.5L1544.2 1013.8L1545.2 1015.0L1546.3 1015.1L1547.4 1015.4L1548.5 1016.3L1549.6 1016.3L1550.6 1016.5L1551.7 1016.9L1552.8 1016.1L1553.9 1015.3L1555.0 1016.2L1556.1 1016.1L1557.1 1014.8L1558.2 1014.7L1559.3 1014.9L1560.4 1013.8L1561.5 1014.1L1562.6 1014.1L1563.6 1014.6L1564.7 1014.3L1565.8 1015.8L1566.9 1015.8L1568.0 1016.5L1569.0 1016.7L1570.1 1016.3L1571.2 1017.2L1572.3 1016.9L1573.4 1017.3L1574.5 1016.9L1575.5 1017.0L1576.6 1016.8L1577.7 1017.0L1578.8 1016.9L1579.9 1016.2L1581.0 1016.5L1582.0 1017.0L1583.1 1016.5L1583.8 1016.1L1588.4 913.7L1589.0 1014.2L1589.5 913.7L1593.7 1012.5L1594.8 1012.1L1595.9 1012.3L1597.0 1011.9"/>
</g></g>
<g transform="scale(0.9240 1)" fill="none">
<line x1="1284.20" y1="112.70" x2="1414.29" y2="112.70" stroke="#ff0000" stroke-width="8.60" stroke-dasharray="33.3 28.2"/>
<line x1="1284.20" y1="202.40" x2="1414.29" y2="202.40" stroke="#62d412" stroke-width="8.60"/>
</g>
<text transform="translate(1314.40 142.10) scale(0.8860 1)" font-size="73.00" text-anchor="start" fill="#000" stroke="#000" stroke-width="0.40">GCN</text>
<text transform="translate(1314.40 229.10) scale(0.8860 1)" font-size="73.00" text-anchor="start" fill="#000" stroke="#000" stroke-width="0.40">FCN</text>
<text transform="translate(206.15 1133.60) scale(0.8580 1)" font-size="83.80" text-anchor="middle" fill="#262626" stroke="#fff" stroke-width="1.00">0</text>
<text transform="translate(628.80 1133.60) scale(0.8580 1)" font-size="83.80" text-anchor="middle" fill="#262626" stroke="#fff" stroke-width="1.00">1000</text>
<text transform="translate(1051.70 1133.60) scale(0.8580 1)" font-size="83.80" text-anchor="middle" fill="#262626" stroke="#fff" stroke-width="1.00">2000</text>
<text transform="translate(1477.40 1133.60) scale(0.8580 1)" font-size="83.80" text-anchor="middle" fill="#262626" stroke="#fff" stroke-width="1.00">3000</text>
<text transform="translate(176.60 83.85) scale(0.8580 1)" font-size="83.80" text-anchor="end" fill="#262626" stroke="#fff" stroke-width="1.00">5</text>
<text transform="translate(176.60 283.70) scale(0.8580 1)" font-size="83.80" text-anchor="end" fill="#262626" stroke="#fff" stroke-width="1.00">4</text>
<text transform="translate(176.60 483.30) scale(0.8580 1)" font-size="83.80" text-anchor="end" fill="#262626" stroke="#fff" stroke-width="1.00">3</text>
<text transform="translate(176.60 682.90) scale(0.8580 1)" font-size="83.80" text-anchor="end" fill="#262626" stroke="#fff" stroke-width="1.00">2</text>
<text transform="translate(179.90 882.70) scale(0.8580 1)" font-size="83.80" text-anchor="end" fill="#262626" stroke="#fff" stroke-width="1.00">1</text>
<text transform="translate(841.20 1243.00) scale(0.9167 1)" font-size="85.00" text-anchor="middle" fill="#262626" stroke="#fff" stroke-width="0.30">The number of iteration</text>
<text transform="translate(106.20 539.20) scale(0.9070 1) rotate(-90)" font-size="85.00" text-anchor="middle" fill="#262626" stroke="#262626" stroke-width="0.40">Training loss</text>
</svg>
</body></html>
